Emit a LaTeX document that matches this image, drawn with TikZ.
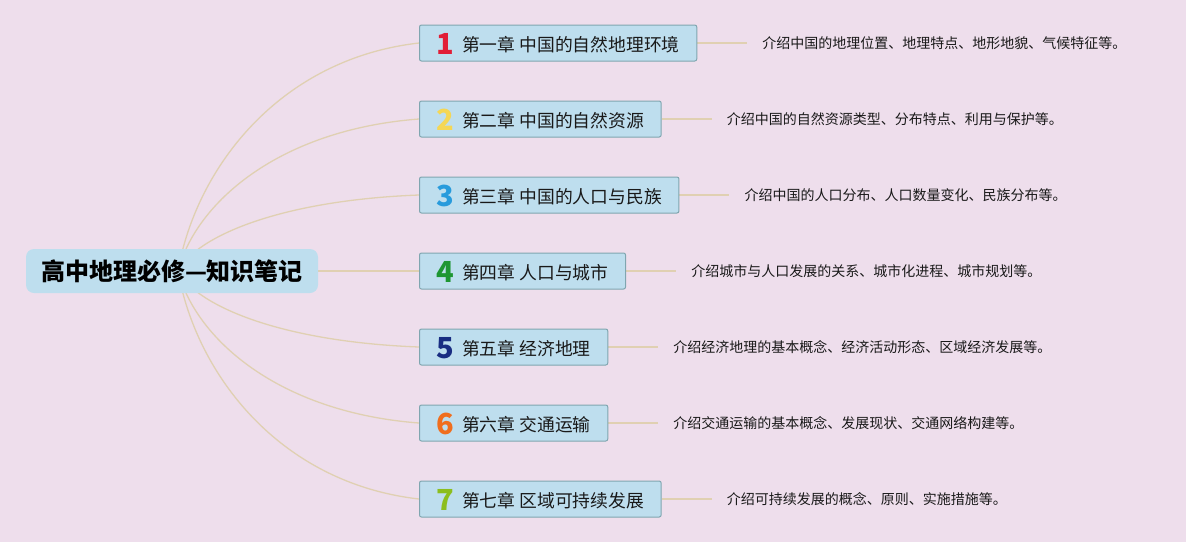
\documentclass[tikz,border=0pt]{standalone}
\usepackage{fontspec}
\newfontfamily\cjk{Noto Sans CJK SC}
\usetikzlibrary{calc,backgrounds}
\definecolor{bgcol}{RGB}{238,222,236}
\definecolor{rootfill}{RGB}{190,222,238}
\definecolor{chapfill}{RGB}{190,222,238}
\definecolor{chapborder}{RGB}{128,166,176}
\definecolor{linkcol}{RGB}{224,208,178}
\definecolor{txt}{RGB}{25,25,25}
\definecolor{n1}{RGB}{225,30,55}
\definecolor{n2}{RGB}{245,215,85}
\definecolor{n3}{RGB}{40,155,220}
\definecolor{n4}{RGB}{30,150,50}
\definecolor{n5}{RGB}{25,45,130}
\definecolor{n6}{RGB}{240,110,30}
\definecolor{n7}{RGB}{140,190,30}
\newcommand\chnum[2]{\smash{\raisebox{-3pt}{\fontsize{29}{29}\selectfont\bfseries\color{#1}#2}}\hspace{8pt}}
\begin{document}
\begin{tikzpicture}[x=1pt,y=-1pt,
  rootbox/.style={fill=rootfill, rounded corners=8pt, minimum width=292pt, minimum height=44pt, inner sep=0pt, text=black, font=\cjk\bfseries\fontsize{24}{26}\selectfont},
  chap/.style={draw=chapborder, fill=chapfill, rounded corners=2pt, line width=1pt, minimum height=36pt, inner xsep=17pt, inner ysep=0pt, text height=18.6pt, text depth=2pt, anchor=west, text=txt, font=\cjk\fontsize{17.8}{20}\selectfont},
  desc/.style={anchor=west, inner sep=0pt, text=txt, font=\cjk\fontsize{14}{16}\selectfont},
  link/.style={draw=linkcol, line width=1.3pt},
]
\useasboundingbox (0,0) rectangle (1186,542);
\node[rootbox] (root) at (172,271) {高中地理必修—知识笔记};
\coordinate (hub) at (178,271);
\node[chap] (c1) at (419,43) {\chnum{n1}{1}第一章 中国的自然地理环境};
\node[chap] (c2) at (419,119) {\chnum{n2}{2}第二章 中国的自然资源};
\node[chap] (c3) at (419,195) {\chnum{n3}{3}第三章 中国的人口与民族};
\node[chap] (c4) at (419,271) {\chnum{n4}{4}第四章 人口与城市};
\node[chap] (c5) at (419,347) {\chnum{n5}{5}第五章 经济地理};
\node[chap] (c6) at (419,423) {\chnum{n6}{6}第六章 交通运输};
\node[chap] (c7) at (419,499) {\chnum{n7}{7}第七章 区域可持续发展};
\node[desc] (d1) at ($(c1.east)+(65,0)$) {介绍中国的地理位置、地理特点、地形地貌、气候特征等。};
\node[desc] (d2) at ($(c2.east)+(65,0)$) {介绍中国的自然资源类型、分布特点、利用与保护等。};
\node[desc] (d3) at ($(c3.east)+(65,0)$) {介绍中国的人口分布、人口数量变化、民族分布等。};
\node[desc] (d4) at ($(c4.east)+(65,0)$) {介绍城市与人口发展的关系、城市化进程、城市规划等。};
\node[desc] (d5) at ($(c5.east)+(65,0)$) {介绍经济地理的基本概念、经济活动形态、区域经济发展等。};
\node[desc] (d6) at ($(c6.east)+(65,0)$) {介绍交通运输的基本概念、发展现状、交通网络构建等。};
\node[desc] (d7) at ($(c7.east)+(65,0)$) {介绍可持续发展的概念、原则、实施措施等。};
\begin{pgfonlayer}{background}
\fill[bgcol] (0,0) rectangle (1186,542);
\foreach \i in {1,2,3,5,6,7}{
  \draw[link] (hub) .. controls ($(hub)!0.45!(hub|-c\i.west)+(18,0)$) and ($(c\i.west)!0.07!(c\i.west|-hub)+(-140,0)$) .. (c\i.west);
}
\draw[link] (hub) -- (c4.west);
\foreach \i in {1,...,7}{
  \draw[link, shorten >=15pt] (c\i.east) -- (d\i.west);
}
\end{pgfonlayer}
\end{tikzpicture}
\end{document}
